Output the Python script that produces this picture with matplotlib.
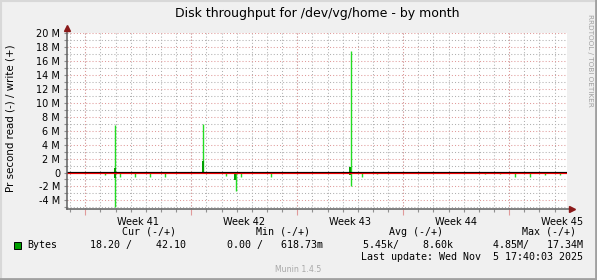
"""
Munin style disk throughput chart (month view) for /dev/vg/home.
Read is drawn below zero, write above zero.
"""

import matplotlib
matplotlib.use('Agg')
import matplotlib.pyplot as plt
import matplotlib.transforms as mtransforms

# ---- data (values in M bytes/s, x in days from the left edge of the graph) ----
spike_day = [2.53, 3.19, 3.52, 4.51, 5.50, 6.49, 9.00, 10.52, 11.16, 11.51,
             13.49, 18.77, 19.50, 20.49, 27.59, 28.62, 29.61, 30.60, 31.59, 32.58]
spike_write = [0, 6.8, 0, 0, 0, 0, 7.0, 0, 0, 0,
               0, 17.4, 0, 0, 0, 0, 0, 0, 0, 0]
spike_read = [0.35, 4.9, 0.6, 0.6, 0.6, 0.6, 0, 0.45, 2.6, 0.6,
              0.6, 1.95, 0.6, 0.2, 0.2, 0.2, 0.6, 0.6, 0.4, 0.4]

block_day = [3.17, 9.00, 11.12, 18.72]
block_write = [0.65, 1.65, 0, 0.85]
block_read = [0.8, 0, 1.1, 0.35]

week_start = [1.21, 8.21, 15.21, 22.21, 29.21]
week_labels = ['Week 41', 'Week 42', 'Week 43', 'Week 44', 'Week 45']
span_days = 33.03

y_ticks = [-4, -2, 0, 2, 4, 6, 8, 10, 12, 14, 16, 18, 20]

legend_headers = ['Cur (-/+)', 'Min (-/+)', 'Avg (-/+)', 'Max (-/+)']
legend_values = ['18.20 /    42.10', '0.00 /   618.73m', '5.45k/    8.60k', '4.85M/   17.34M']
last_update = 'Last update: Wed Nov  5 17:40:03 2025'

W, H = 597, 280
BG = '#f0f0f0'
DARK = '#00a000'
BRIGHT = '#22dd22'
GRID_MINOR = '#b0b0b0'
GRID_MAJOR = '#e09a9a'

fig = plt.figure(figsize=(W / 100, H / 100), dpi=100, facecolor=BG)


def fx(px):
    return px / W


def fy(py):
    return 1 - py / H


ax = fig.add_axes([fx(67), fy(208.7), 500 / W, 175.4 / H])
ax.set_facecolor('white')
ax.set_xlim(0, span_days)
ax.set_ylim(-5.2, 20)

# grid
day_off = week_start[0] % 1
for d in range(0, 34):
    ax.axvline(d + day_off, color=GRID_MINOR, lw=0.75, ls=(0, (1, 2)), zorder=0)
for d in week_start:
    ax.axvline(d, color=GRID_MAJOR, lw=0.75, ls=(0, (1, 2)), zorder=0.5)
for v in range(-5, 21):
    c = GRID_MAJOR if v % 2 == 0 else GRID_MINOR
    ax.axhline(v, color=c, lw=0.75, ls=(0, (1, 2)), zorder=0)

# thin peaks
ax.vlines(spike_day, 0, spike_write, color=BRIGHT, lw=1.0, zorder=2)
ax.vlines(spike_day, [-r for r in spike_read], 0, color=BRIGHT, lw=1.0, zorder=2)

# darker averaged blocks
ax.bar(block_day, block_write, width=0.13, color=DARK, zorder=3)
ax.bar(block_day, [-r for r in block_read], width=0.13, color=DARK, zorder=3)

# zero line: black on top, red just below
up = mtransforms.offset_copy(ax.transData, fig, y=0.6, units='dots')
down = mtransforms.offset_copy(ax.transData, fig, y=-0.6, units='dots')
ax.plot([0, span_days], [0, 0], color='black', lw=0.85, transform=up, zorder=4)
ax.plot([0, span_days], [0, 0], color='#ee0000', lw=0.85, transform=down, zorder=4)

# axes
for s in ax.spines.values():
    s.set_visible(False)
ax.plot([0, 0], [0, 1.025], color='#606060', lw=1.1, transform=ax.transAxes, clip_on=False, zorder=5)
ax.plot([0, 1.008], [0, 0], color='#606060', lw=1.1, transform=ax.transAxes, clip_on=False, zorder=5)
ax.plot([0], [1.03], marker='^', color='#8b1a1a', ms=4.5, transform=ax.transAxes, clip_on=False, zorder=6)
ax.plot([1.01], [0], marker='>', color='#8b1a1a', ms=4.5, transform=ax.transAxes, clip_on=False, zorder=6)

ax.set_yticks(y_ticks)
ax.set_yticklabels(['0' if v == 0 else '%d M' % v for v in y_ticks], fontsize=7)
ax.set_yticks(range(-5, 21), minor=True)
ax.tick_params(axis='y', which='both', length=2, width=0.8, color='#909090', pad=3)

ax.set_xticks(week_start)
ax.set_xticklabels([])
ax.set_xticks([d + day_off for d in range(0, 33)], minor=True)
ax.tick_params(axis='x', which='major', length=4, width=0.8, color=GRID_MAJOR)
ax.tick_params(axis='x', which='minor', length=2, width=0.8, color='#909090')

for d, lab in zip(week_start, week_labels):
    ax.text(d + 3.5, -0.045, lab, transform=ax.get_xaxis_transform(),
            ha='center', va='top', fontsize=7, clip_on=False)

# title, y label and side text
fig.text(fx(317), fy(13), 'Disk throughput for /dev/vg/home - by month',
         ha='center', va='center', fontsize=9)
fig.text(fx(11), fy(118), 'Pr second read (-) / write (+)', rotation=90,
         ha='center', va='center', fontsize=7.4)
fig.text(fx(590), fy(60), 'RRDTOOL / TOBI OETIKER', rotation=-90,
         ha='center', va='center', fontsize=5.2, color='#a0a0a0')

# legend block
mono = 'DejaVu Sans Mono'
head_right = [176, 310, 443, 576]
val_right = [186, 323, 453, 583]
for x, t in zip(head_right, legend_headers):
    fig.text(fx(x), fy(232), t, ha='right', va='center', fontsize=7.2, family=mono)
for x, t in zip(val_right, legend_values):
    fig.text(fx(x), fy(245), t, ha='right', va='center', fontsize=7.2, family=mono)
fig.text(fx(27), fy(245), 'Bytes', ha='left', va='center', fontsize=7.2, family=mono)
fig.patches.append(plt.Rectangle((fx(13.5), fy(248.5)), 7 / W, 7 / H, transform=fig.transFigure,
                                 facecolor=DARK, edgecolor='black', lw=0.7))
fig.text(fx(583), fy(257), last_update, ha='right', va='center', fontsize=7.2, family=mono)
fig.text(fx(298), fy(269), 'Munin 1.4.5', ha='center', va='center', fontsize=5.6, color='#a8a8a8')

# outer frame of the image
fig.add_artist(plt.Line2D([0, 1], [fy(0.5), fy(0.5)], transform=fig.transFigure, color='#d8d8d8', lw=1.5))
fig.add_artist(plt.Line2D([fx(0.5), fx(0.5)], [0, 1], transform=fig.transFigure, color='#d8d8d8', lw=1.5))
fig.add_artist(plt.Line2D([0, 1], [fy(278.5), fy(278.5)], transform=fig.transFigure, color='#a0a0a0', lw=2))
fig.add_artist(plt.Line2D([fx(595.5), fx(595.5)], [0, 1], transform=fig.transFigure, color='#a0a0a0', lw=2))

fig.savefig('out.png', dpi=100, facecolor=BG)
